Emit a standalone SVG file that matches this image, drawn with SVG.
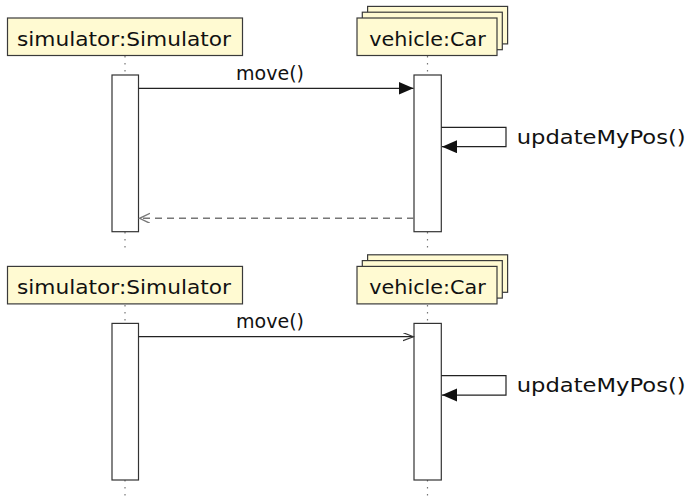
<svg xmlns="http://www.w3.org/2000/svg" width="690" height="497" viewBox="0 0 690 497">
  <style>
    .hdr { fill: #fffad2; stroke: #3a3a3a; stroke-width: 1.2; }
    .act { fill: #ffffff; stroke: #333333; stroke-width: 1.2; }
    .life { stroke: #777777; stroke-width: 1.2; stroke-dasharray: 1.5 5.5; fill: none; }
    .msg { stroke: #222222; stroke-width: 1.2; fill: none; }
    .ret { stroke: #777777; stroke-width: 1.4; stroke-dasharray: 7 5; fill: none; }
    .lbl { font-family: "DejaVu Sans", "Liberation Sans", sans-serif; font-size: 20px; fill: #111111; }
  </style>
  <defs>
    <marker id="filled" markerUnits="userSpaceOnUse" markerWidth="16" markerHeight="14" refX="15" refY="6.5" orient="auto">
      <path d="M0,0 L15,6.5 L0,13 Z" fill="#111111"/>
    </marker>
    <marker id="open" markerUnits="userSpaceOnUse" markerWidth="12" markerHeight="10" refX="10.5" refY="4" orient="auto">
      <path d="M0,0 L10.5,4 L0,8" fill="none" stroke="#333333" stroke-width="1.2"/>
    </marker>
    <marker id="openRet" markerUnits="userSpaceOnUse" markerWidth="12" markerHeight="12" refX="10.5" refY="5" orient="auto">
      <path d="M0,0 L10.5,5 L0,10" fill="none" stroke="#777777" stroke-width="1.4"/>
    </marker>
  </defs>

  <rect width="690" height="497" fill="#ffffff"/>

  <!-- lifelines -->
  <g id="lifelines">
    <line class="life" x1="125" y1="56" x2="125" y2="75"/>
    <line class="life" x1="125" y1="232" x2="125" y2="251"/>
    <line class="life" x1="427.5" y1="56" x2="427.5" y2="75"/>
    <line class="life" x1="427.5" y1="232" x2="427.5" y2="251"/>
    <line class="life" x1="125" y1="305" x2="125" y2="323"/>
    <line class="life" x1="125" y1="480" x2="125" y2="497"/>
    <line class="life" x1="427.5" y1="305" x2="427.5" y2="323"/>
    <line class="life" x1="427.5" y1="480" x2="427.5" y2="497"/>
  </g>

  <!-- first sequence -->
  <g id="simulator1">
    <rect class="hdr" x="7.5" y="18" width="235" height="37.5"/>
    <text class="lbl" x="17" y="45.7" textLength="214" lengthAdjust="spacingAndGlyphs">simulator:Simulator</text>
    <rect class="act" x="112" y="75" width="26.5" height="156.7"/>
  </g>
  <g id="car1">
    <rect class="hdr" x="367.6" y="6.4" width="140" height="37.5"/>
    <rect class="hdr" x="362.3" y="12.2" width="140" height="37.5"/>
    <rect class="hdr" x="357" y="18" width="140" height="37.5"/>
    <text class="lbl" x="369.3" y="45.7" textLength="116.4" lengthAdjust="spacingAndGlyphs">vehicle:Car</text>
    <rect class="act" x="414" y="75" width="27.3" height="156.7"/>
  </g>

  <!-- second sequence -->
  <g id="simulator2">
    <rect class="hdr" x="7.5" y="266.4" width="235" height="37.5"/>
    <text class="lbl" x="17" y="294" textLength="214" lengthAdjust="spacingAndGlyphs">simulator:Simulator</text>
    <rect class="act" x="112" y="323.4" width="26.5" height="156.6"/>
  </g>
  <g id="car2">
    <rect class="hdr" x="367.6" y="254.8" width="140" height="37.5"/>
    <rect class="hdr" x="362.3" y="260.6" width="140" height="37.5"/>
    <rect class="hdr" x="357" y="266.4" width="140" height="37.5"/>
    <text class="lbl" x="369.3" y="294" textLength="116.4" lengthAdjust="spacingAndGlyphs">vehicle:Car</text>
    <rect class="act" x="414" y="323.4" width="27.3" height="156.6"/>
  </g>

  <!-- messages -->
  <g id="connectors">
    <line class="msg" x1="138.5" y1="88.3" x2="413.5" y2="88.3" marker-end="url(#filled)"/>
    <polyline class="msg" points="441.3,127.3 506,127.3 506,146.7 442,146.7" marker-end="url(#filled)"/>
    <line class="ret" x1="414" y1="218.3" x2="139.5" y2="218.3" marker-end="url(#openRet)"/>

    <line class="msg" x1="138.5" y1="336.7" x2="413.5" y2="336.7" marker-end="url(#open)"/>
    <polyline class="msg" points="441.3,375.7 506,375.7 506,395.1 442,395.1" marker-end="url(#filled)"/>
  </g>

  <g id="labels">
    <text class="lbl" x="236" y="80" textLength="68" lengthAdjust="spacingAndGlyphs">move()</text>
    <text class="lbl" x="516.7" y="144" textLength="169" lengthAdjust="spacingAndGlyphs">updateMyPos()</text>
    <text class="lbl" x="236" y="328.4" textLength="68" lengthAdjust="spacingAndGlyphs">move()</text>
    <text class="lbl" x="516.7" y="392.4" textLength="169" lengthAdjust="spacingAndGlyphs">updateMyPos()</text>
  </g>
</svg>
